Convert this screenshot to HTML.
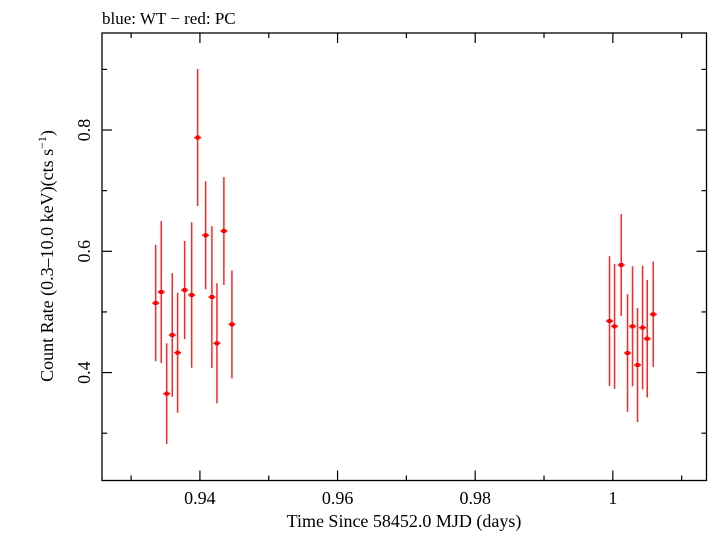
<!DOCTYPE html>
<html><head><meta charset="utf-8"><style>
body{margin:0;background:#fff;}
svg text{font-family:"Liberation Serif",serif;fill:#000;}
</style></head><body>
<svg id="chart" width="709" height="532" xmlns="http://www.w3.org/2000/svg">
<rect width="709" height="532" fill="#fff"/>
<text x="102" y="24" font-size="17">blue: WT − red: PC</text>
<rect x="102" y="33" width="604.5" height="447.5" fill="none" stroke="#000" stroke-width="1.3"/>
<g id="ticks"></g>
<g id="series"></g>
<text x="404" y="527" font-size="18" text-anchor="middle">Time Since 58452.0 MJD (days)</text>
<text transform="translate(53,256) rotate(-90)" font-size="18" text-anchor="middle">Count Rate (0.3–10.0 keV)(cts s<tspan dy="-7" font-size="12">−1</tspan><tspan dy="7">)</tspan></text>
</svg>
<script>
const times=[0.93357,0.93438,0.93517,0.93598,0.93676,0.93778,0.93880,0.93967,0.94083,0.94174,0.94247,0.94348,0.94465,0.99952,1.00025,1.00122,1.00214,1.00286,1.00359,1.00432,1.00500,1.00587];
const rates=[0.5147,0.5328,0.3652,0.4619,0.4328,0.5361,0.5279,0.7876,0.6264,0.5246,0.4482,0.6335,0.4795,0.4850,0.4762,0.5774,0.4322,0.4762,0.4124,0.4741,0.4559,0.4960];
const rateErrs=[0.096,0.117,0.083,0.102,0.099,0.081,0.120,0.113,0.089,0.117,0.099,0.089,0.089,0.107,0.103,0.084,0.097,0.099,0.094,0.102,0.097,0.087];
const timeErr=0.0005;
const xTicksMajor=[0.94,0.96,0.98,1.00];
const xTickLabels=["0.94","0.96","0.98","1"];
const xTicksMinor=[0.93,0.95,0.97,0.99,1.01];
const yTicksMajor=[0.4,0.6,0.8];
const yTickLabels=["0.4","0.6","0.8"];
const yTicksMinor=[0.3,0.5,0.7,0.9];
const X0=102,X1=706.5,Y0=33,Y1=480.5;
const xMin=0.92577,xMax=1.01361,yMin=0.222,yMax=0.960;
const xs=v=>X0+(v-xMin)/(xMax-xMin)*(X1-X0);
const ys=v=>Y1-(v-yMin)/(yMax-yMin)*(Y1-Y0);
const NS="http://www.w3.org/2000/svg";
function mk(tag,attrs,parent){const e=document.createElementNS(NS,tag);for(const k in attrs)e.setAttribute(k,attrs[k]);parent.appendChild(e);return e;}
const tg=document.getElementById('ticks');
function tickLine(x1,y1,x2,y2){const l=mk('line',{x1:x1,y1:y1,x2:x2,y2:y2,stroke:'#000','stroke-width':1.2},tg);

}
xTicksMajor.forEach((v,i)=>{const x=xs(v);tickLine(x,Y1,x,Y1-10);tickLine(x,Y0,x,Y0+10);
const t=mk('text',{x:x,y:504,'font-size':18,'text-anchor':'middle'},tg);t.textContent=xTickLabels[i];

});
xTicksMinor.forEach(v=>{const x=xs(v);tickLine(x,Y1,x,Y1-5);tickLine(x,Y0,x,Y0+5);});
yTicksMajor.forEach((v,i)=>{const y=ys(v);tickLine(X0,y,X0+10,y);tickLine(X1,y,X1-10,y);
const t=mk('text',{transform:`translate(90,${y}) rotate(-90)`,'font-size':18,'text-anchor':'middle'},tg);t.textContent=yTickLabels[i];

});
yTicksMinor.forEach(v=>{const y=ys(v);tickLine(X0,y,X0+5,y);tickLine(X1,y,X1-5,y);});
const sg=document.getElementById('series');
times.forEach((t,i)=>{const x=xs(t),y=ys(rates[i]);
const g=mk('g',{},sg);


mk('line',{x1:x,y1:ys(rates[i]+rateErrs[i]),x2:x,y2:ys(rates[i]-rateErrs[i]),stroke:'#f00','stroke-width':1.5,'stroke-opacity':0.85},g);
mk('line',{x1:xs(t-timeErr),y1:y,x2:xs(t+timeErr),y2:y,stroke:'#f00','stroke-width':1.5},g);
mk('rect',{x:x-2,y:y-2,width:4,height:4,fill:'#f00'},g);});
</script>
</body></html>
